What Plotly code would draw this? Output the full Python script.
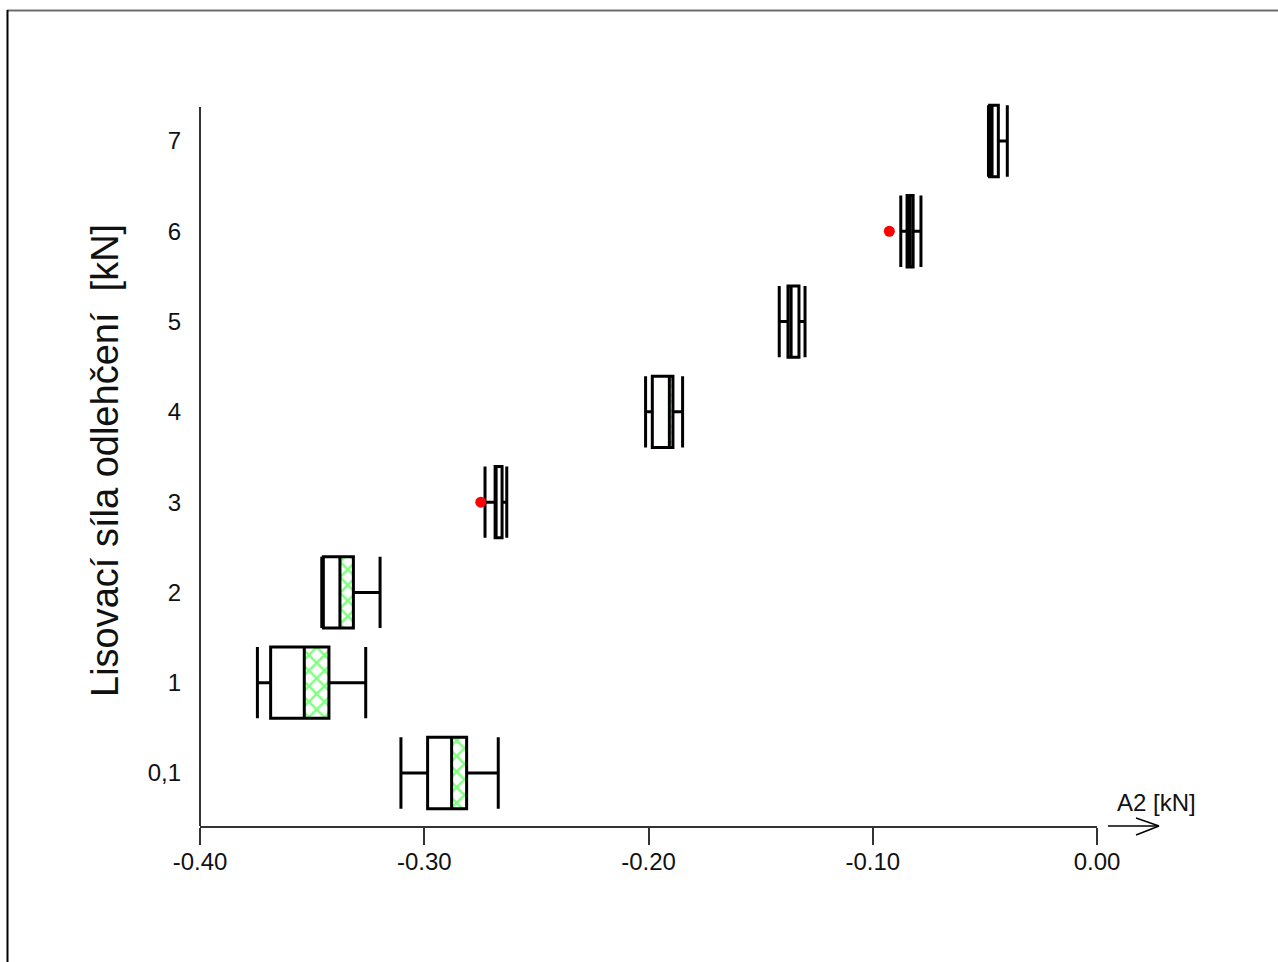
import plotly.graph_objects as go

# ---- data ----
categories = ['0,1', '1', '2', '3', '4', '5', '6', '7']
lower_whisker = [-0.3104, -0.3744, -0.3457, -0.2729, -0.2013, -0.1417, -0.0875, -0.0484]
q1 = [-0.2985, -0.3685, -0.3450, -0.2684, -0.1983, -0.1378, -0.0847, -0.0479]
median = [-0.2878, -0.3535, -0.3376, -0.2680, -0.1907, -0.1364, -0.0834, -0.0468]
q3 = [-0.2811, -0.3425, -0.3316, -0.2653, -0.1891, -0.1329, -0.0820, -0.0440]
upper_whisker = [-0.2670, -0.3261, -0.3197, -0.2632, -0.1848, -0.1302, -0.0785, -0.0400]

# green cross-hatched interval (start/end) as seen in the picture
hatch_start = [-0.2878, -0.3535, -0.3376, -0.2680, -0.1907, -0.1364, -0.0834, -0.0468]
hatch_end = [-0.2811, -0.3425, -0.3316, -0.2680, -0.1891, -0.1364, -0.0834, -0.0468]

outlier_cat = ['3', '6']
outlier_val = [-0.2748, -0.0926]

x_tickvals = [-0.40, -0.30, -0.20, -0.10, 0.00]
x_ticktext = ['-0.40', '-0.30', '-0.20', '-0.10', '0.00']

y_title = 'Lisovací síla odlehčení\u00a0\u00a0[kN]'
x_title = 'A2 [kN]'

# ---- layout geometry ----
W, H = 1278, 962
L, R, T, B = 200, 181, 95, 136
PW, PH = W - L - R, H - T - B
AXIS_TOP = 107  # pixel row where the drawn y axis line starts


def px(x):
    return (x - L) / PW


def py(y):
    return (H - B - y) / PH


BOXW = 0.79
Y_LO = -0.587
Y_HI = Y_LO + PH / 90.29

fig = go.Figure()

# green cross-hatched region
fig.add_trace(go.Bar(
    y=categories,
    x=[b - a for a, b in zip(hatch_start, hatch_end)],
    base=hatch_start,
    orientation='h',
    width=BOXW,
    marker=dict(
        color='white',
        line=dict(width=0),
        pattern=dict(shape='x', fgcolor='#00ff00', bgcolor='white',
                     size=11, solidity=0.4),
    ),
    showlegend=False,
    hoverinfo='skip',
))

fig.add_trace(go.Box(
    y=categories,
    q1=q1,
    median=median,
    q3=q3,
    lowerfence=lower_whisker,
    upperfence=upper_whisker,
    orientation='h',
    width=BOXW,
    whiskerwidth=1,
    boxpoints=False,
    fillcolor='rgba(0,0,0,0)',
    line=dict(color='black', width=3),
    showlegend=False,
))

fig.add_trace(go.Scatter(
    x=outlier_val,
    y=outlier_cat,
    mode='markers',
    marker=dict(color='#ff0000', size=11),
    showlegend=False,
))

fig.update_layout(
    width=W, height=H,
    margin=dict(l=L, r=R, t=T, b=B, pad=0),
    paper_bgcolor='white',
    plot_bgcolor='white',
    barmode='overlay',
    boxmode='overlay',
    font=dict(family='Arial, Liberation Sans, sans-serif', color='#111111', size=24),
    xaxis=dict(
        range=[-0.40, 0.00],
        tickvals=x_tickvals,
        ticktext=x_ticktext,
        ticks='outside', ticklen=17, tickwidth=2, tickcolor='#333333',
        ticklabelstandoff=-4,
        showline=True, linecolor='#333333', linewidth=2,
        showgrid=False, zeroline=False,
        tickfont=dict(size=24, color='#111111'),
    ),
    yaxis=dict(
        type='category',
        categoryorder='array',
        categoryarray=categories,
        range=[Y_LO, Y_HI],
        ticks='',
        ticklabelstandoff=18,
        showline=False,
        showgrid=False, zeroline=False,
        tickfont=dict(size=24, color='#111111'),
    ),
    annotations=[
        dict(text=y_title, textangle=-90, xref='paper', yref='paper',
             x=px(105), y=py(461), xanchor='center', yanchor='middle',
             showarrow=False, font=dict(size=38, color='#111111')),
        dict(text=x_title, xref='paper', yref='paper',
             x=px(1156), y=py(802), xanchor='center', yanchor='middle',
             showarrow=False, font=dict(size=24, color='#111111')),
    ],
    shapes=[
        # y axis line (shorter than the plotting area)
        dict(type='line', xref='paper', yref='paper', x0=0, y0=0, x1=0, y1=py(AXIS_TOP),
             line=dict(color='#333333', width=2), layer='below'),
        # axis arrow
        dict(type='line', xref='paper', yref='paper', x0=px(1108), y0=py(826), x1=px(1159), y1=py(826),
             line=dict(color='black', width=1.5)),
        dict(type='line', xref='paper', yref='paper', x0=px(1136), y0=py(818), x1=px(1159), y1=py(826),
             line=dict(color='black', width=1.5)),
        dict(type='line', xref='paper', yref='paper', x0=px(1136), y0=py(835), x1=px(1159), y1=py(826),
             line=dict(color='black', width=1.5)),
        # outer frame
        dict(type='line', xref='paper', yref='paper', x0=px(7), y0=py(10.5), x1=px(1280), y1=py(10.5),
             line=dict(color='#6e6e6e', width=2)),
        dict(type='line', xref='paper', yref='paper', x0=px(7.5), y0=py(10), x1=px(7.5), y1=py(965),
             line=dict(color='black', width=2)),
    ],
)

fig.write_html('out.html')
